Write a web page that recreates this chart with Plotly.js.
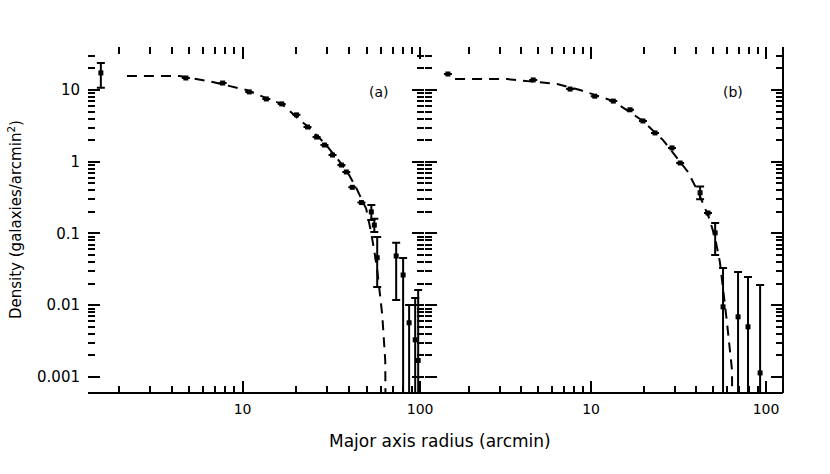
<!DOCTYPE html>
<html>
<head>
<meta charset="utf-8">
<script src="https://cdn.plot.ly/plotly-3.0.1.min.js"></script>
<style>html,body{margin:0;padding:0;background:#fff;}#chart{width:830px;height:474px;}</style>
</head>
<body>
<div id="chart"></div>
<script>
// ---- Panel (a) data ----
var aRadius  = [1.59, 4.79, 7.72, 10.9, 13.6, 16.6, 20.1, 23.2, 26.1, 28.9, 32.1, 36.0, 38.4, 41.5, 46.7, 53.1, 55.2, 57.3, 73.3, 80.2, 86.7, 93.8, 97.5];
var aDensity = [17.3, 14.7, 12.5, 9.4, 7.5, 6.4, 4.5, 3.05, 2.21, 1.71, 1.24, 0.90, 0.72, 0.44, 0.27, 0.20, 0.131, 0.046, 0.0486, 0.0264, 0.0057, 0.0033, 0.0017];
var aUpper   = [23.8, null, null, null, null, null, null, null, null, null, null, null, null, null, null, 0.25, 0.16, 0.089, 0.074, 0.0456, 0.0101, 0.0126, 0.0163];
var aLower   = [10.7, null, null, null, null, null, null, null, null, null, null, null, null, null, null, 0.154, 0.105, 0.018, 0.0118, 0, 0, 0, 0];
var aModelR  = [2.23, 4.43, 6.78, 10.5, 13.6, 16.6, 20.1, 23.8, 28.9, 33.7, 38.4, 43.7, 49.7, 53.1, 57.0, 61.2, 63.6, 64.5];
var aModelD  = [15.7, 15.7, 12.9, 10.0, 7.7, 6.4, 4.2, 2.95, 1.82, 1.13, 0.77, 0.43, 0.22, 0.10, 0.035, 0.0073, 0.0017, 0.00001];

// ---- Panel (b) data ----
var bRadius  = [1.52, 4.67, 7.59, 10.5, 13.4, 16.7, 19.8, 23.2, 29.0, 32.3, 42.0, 46.6, 51.2, 56.8, 69.2, 78.9, 92.5];
var bDensity = [16.7, 13.8, 10.3, 8.2, 7.0, 5.3, 3.7, 2.52, 1.56, 0.96, 0.37, 0.193, 0.102, 0.0095, 0.0069, 0.0050, 0.00114];
var bUpper   = [null, null, null, null, null, null, null, null, null, null, 0.45, null, 0.14, 0.033, 0.029, 0.0248, 0.0191];
var bLower   = [null, null, null, null, null, null, null, null, null, null, 0.30, null, 0.050, 0, 0, 0, 0];
var bModelR  = [1.67, 3.31, 6.4, 8.65, 13.4, 19.8, 25.8, 35.8, 40.9, 47.0, 51.0, 54.5, 59.8, 63.9, 64.6];
var bModelD  = [14.2, 14.2, 12.1, 10.0, 7.0, 3.7, 2.0, 0.72, 0.38, 0.17, 0.09, 0.04, 0.0058, 0.00126, 0.00001];

// ---- Ticks ----
var xTickVals = [10, 100];
var xTickText = ['10', '100'];
var xMinorVals = [2, 3, 4, 5, 6, 7, 8, 9, 20, 30, 40, 50, 60, 70, 80, 90];
var yTickVals = [0.001, 0.01, 0.1, 1, 10];
var yTickText = ['0.001', '0.01', '0.1', '1', '10'];
var yMinorVals = [0.002, 0.003, 0.004, 0.005, 0.006, 0.007, 0.008, 0.009,
                  0.02, 0.03, 0.04, 0.05, 0.06, 0.07, 0.08, 0.09,
                  0.2, 0.3, 0.4, 0.5, 0.6, 0.7, 0.8, 0.9,
                  2, 3, 4, 5, 6, 7, 8, 9, 20, 30];

function errPlus(y, hi) { return y.map(function (v, i) { return hi[i] === null ? null : hi[i] - v; }); }
function errMinus(y, lo) { return y.map(function (v, i) { return lo[i] === null ? null : v - lo[i]; }); }

var FONT = 'DejaVu Sans, Liberation Sans, sans-serif';

function modelTrace(x, y, xa, ya) {
  return { x: x, y: y, xaxis: xa, yaxis: ya, type: 'scatter', mode: 'lines',
           line: { color: '#000', width: 2, dash: '10px,7px' }, hoverinfo: 'skip', showlegend: false };
}
function dataTrace(x, y, hi, lo, xa, ya) {
  return { x: x, y: y, xaxis: xa, yaxis: ya, type: 'scatter', mode: 'markers',
           marker: { symbol: 'square', size: 5, color: '#000' },
           error_y: { type: 'data', symmetric: false, array: errPlus(y, hi), arrayminus: errMinus(y, lo),
                      color: '#000', thickness: 2, width: 4 },
           showlegend: false };
}

var traces = [
  modelTrace(aModelR, aModelD, 'x', 'y'),
  dataTrace(aRadius, aDensity, aUpper, aLower, 'x', 'y'),
  modelTrace(bModelR, bModelD, 'x2', 'y2'),
  dataTrace(bRadius, bDensity, bUpper, bLower, 'x2', 'y2')
];

function xAxis(domain, range, anchor) {
  return { domain: domain, type: 'log', range: range, anchor: anchor,
           tickmode: 'array', tickvals: xTickVals, ticktext: xTickText,
           ticks: 'inside', ticklen: 12, tickwidth: 2, tickcolor: '#000', mirror: 'ticks',
           showline: false, showgrid: false, zeroline: false, ticklabelstandoff: 6,
           tickfont: { family: FONT, size: 14, color: '#000' },
           minor: { tickmode: 'array', tickvals: xMinorVals, ticks: 'inside', ticklen: 7, tickwidth: 2, tickcolor: '#000', showgrid: false } };
}
function yAxis(anchor, labels) {
  return { domain: [0, 1], type: 'log', range: [-3.223, 1.599], anchor: anchor,
           tickmode: 'array', tickvals: yTickVals, ticktext: yTickText, showticklabels: labels,
           ticks: 'inside', ticklen: 12, tickwidth: 2, tickcolor: '#000', mirror: 'ticks',
           showline: false, showgrid: false, zeroline: false, ticklabelstandoff: 7,
           tickfont: { family: FONT, size: 15, color: '#000' },
           minor: { tickmode: 'array', tickvals: yMinorVals, ticks: 'inside', ticklen: 7, tickwidth: 2, tickcolor: '#000', showgrid: false } };
}

var layout = {
  width: 830, height: 474,
  margin: { l: 88, r: 47, t: 47, b: 81 },
  paper_bgcolor: '#fff', plot_bgcolor: '#fff',
  showlegend: false,
  xaxis: xAxis([0, 0.4835], [0.129, 2.022], 'y'),
  xaxis2: xAxis([0.4849, 1], [0.051, 2.097], 'y2'),
  yaxis: yAxis('x', true),
  yaxis2: yAxis('x2', false),
  shapes: [
    { type: 'line', xref: 'paper', yref: 'paper', x0: 0, x1: 1, y0: 0, y1: 0, line: { color: '#000', width: 2 } },
    { type: 'line', xref: 'paper', yref: 'paper', x0: 1, x1: 1, y0: 0, y1: 1, line: { color: '#000', width: 2 } }
  ],
  annotations: [
    { text: '(a)', xref: 'x domain', yref: 'y domain', x: 0.902, y: 0.899, showarrow: false,
      font: { family: FONT, size: 14, color: '#000' } },
    { text: '(b)', xref: 'x2 domain', yref: 'y2 domain', x: 0.894, y: 0.899, showarrow: false,
      font: { family: FONT, size: 14, color: '#000' } },
    { text: 'Major axis radius (arcmin)', xref: 'paper', yref: 'paper', x: 0.5065, y: -0.139,
      xanchor: 'center', yanchor: 'middle', showarrow: false, font: { family: FONT, size: 17, color: '#000' } },
    { text: 'Density (galaxies/arcmin<sup>2</sup>)', xref: 'paper', yref: 'paper', x: -0.105, y: 0.5,
      xanchor: 'center', yanchor: 'middle', textangle: -90, showarrow: false, font: { family: FONT, size: 15, color: '#000' } }
  ]
};

Plotly.newPlot('chart', traces, layout, { displayModeBar: false, staticPlot: true });
</script>
</body>
</html>
